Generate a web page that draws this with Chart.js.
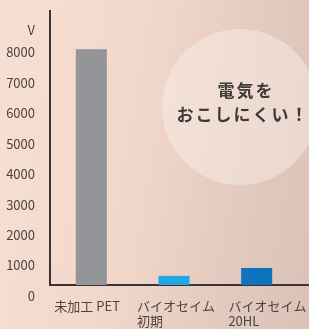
<!DOCTYPE html>
<html>
<head>
<meta charset="utf-8">
<script src="https://cdn.jsdelivr.net/npm/chart.js@4"></script>
<style>
  html, body { margin: 0; padding: 0; }
  body {
    width: 309px; height: 329px; overflow: hidden;
    background: linear-gradient(100deg, #f7e0d3 0%, #f1d7c9 45%, #e3cabe 75%, #dbc2b6 100%);
  }
</style>
</head>
<body>
<canvas id="voltChart" width="309" height="329"></canvas>
<script>
// 帯電電圧 (V)
const categories = [['未加工 PET'], ['バイオセイム', '初期'], ['   バイオセイム', '   20HL']];
const voltages = [7740, 300, 560];
const barColors = ['#939598', '#22a7e0', '#0f74bb'];
const yTicks = [0, 1000, 2000, 3000, 4000, 5000, 6000, 7000, 8000, 9000];
const unitLabel = 'V';
const badgeLines = ['電気を', 'おこしにくい！'];

const textColor = '#4a4343';
const axisColor = '#3b3333';

const badgePlugin = {
    id: 'badge',
    beforeDraw(chart) {
        const c = chart.ctx;
        c.save();
        c.beginPath();
        c.arc(240, 107, 78, 0, Math.PI * 2);
        c.fillStyle = 'rgba(250, 240, 234, 0.45)';
        c.fill();
        c.fillStyle = '#3f3a3a';
        c.font = 'bold 17px "Noto Sans CJK JP"';
        c.textAlign = 'center';
        c.textBaseline = 'middle';
        c.letterSpacing = '2px';
        c.fillText(badgeLines[0], 246, 91);
        c.fillText(badgeLines[1], 243, 115);
        c.restore();
    },
    afterDraw(chart) {
        // x軸の線を右端まで延ばす
        const c = chart.ctx;
        const y = chart.scales.y.getPixelForValue(0);
        c.save();
        c.strokeStyle = axisColor;
        c.lineWidth = 2;
        c.beginPath();
        c.moveTo(chart.chartArea.right, y);
        c.lineTo(chart.width, y);
        c.stroke();
        c.restore();
    }
};

const ctx = document.getElementById('voltChart').getContext('2d');
new Chart(ctx, {
    type: 'bar',
    data: {
        labels: categories,
        datasets: [{
            data: voltages,
            backgroundColor: barColors,
            borderWidth: 0,
            barPercentage: 0.376,
            categoryPercentage: 1
        }]
    },
    options: {
        responsive: false,
        animation: false,
        layout: { padding: { left: 6, right: 11, top: 11, bottom: 0 } },
        plugins: {
            legend: { display: false },
            tooltip: { enabled: false }
        },
        scales: {
            x: {
                afterFit(scale) {
                    scale.height = 44;
                    scale.paddingLeft = 0;
                    scale.paddingRight = 0;
                },
                grid: { display: false, drawTicks: false },
                border: { display: true, color: axisColor, width: 2 },
                ticks: {
                    align: 'start',
                    labelOffset: -37,
                    padding: 13,
                    maxRotation: 0,
                    autoSkip: false,
                    color: textColor,
                    font: { family: '"Noto Sans CJK JP"', size: 13 }
                }
            },
            y: {
                min: 0,
                max: 9000,
                afterBuildTicks(scale) {
                    scale.ticks = yTicks.map(v => ({ value: v }));
                },
                afterFit(scale) {
                    scale.width = 44;
                    scale.paddingTop = 0;
                    scale.paddingBottom = 0;
                },
                grid: { display: false, drawTicks: false },
                border: { display: true, color: axisColor, width: 2 },
                ticks: {
                    autoSkip: false,
                    labelOffset: 11,
                    padding: 15,
                    color: textColor,
                    font: { family: '"Noto Sans CJK JP"', size: 13 },
                    callback: function (value) {
                        return value === 9000 ? ['', unitLabel] : value;
                    }
                }
            }
        }
    },
    plugins: [badgePlugin]
});
</script>
</body>
</html>
